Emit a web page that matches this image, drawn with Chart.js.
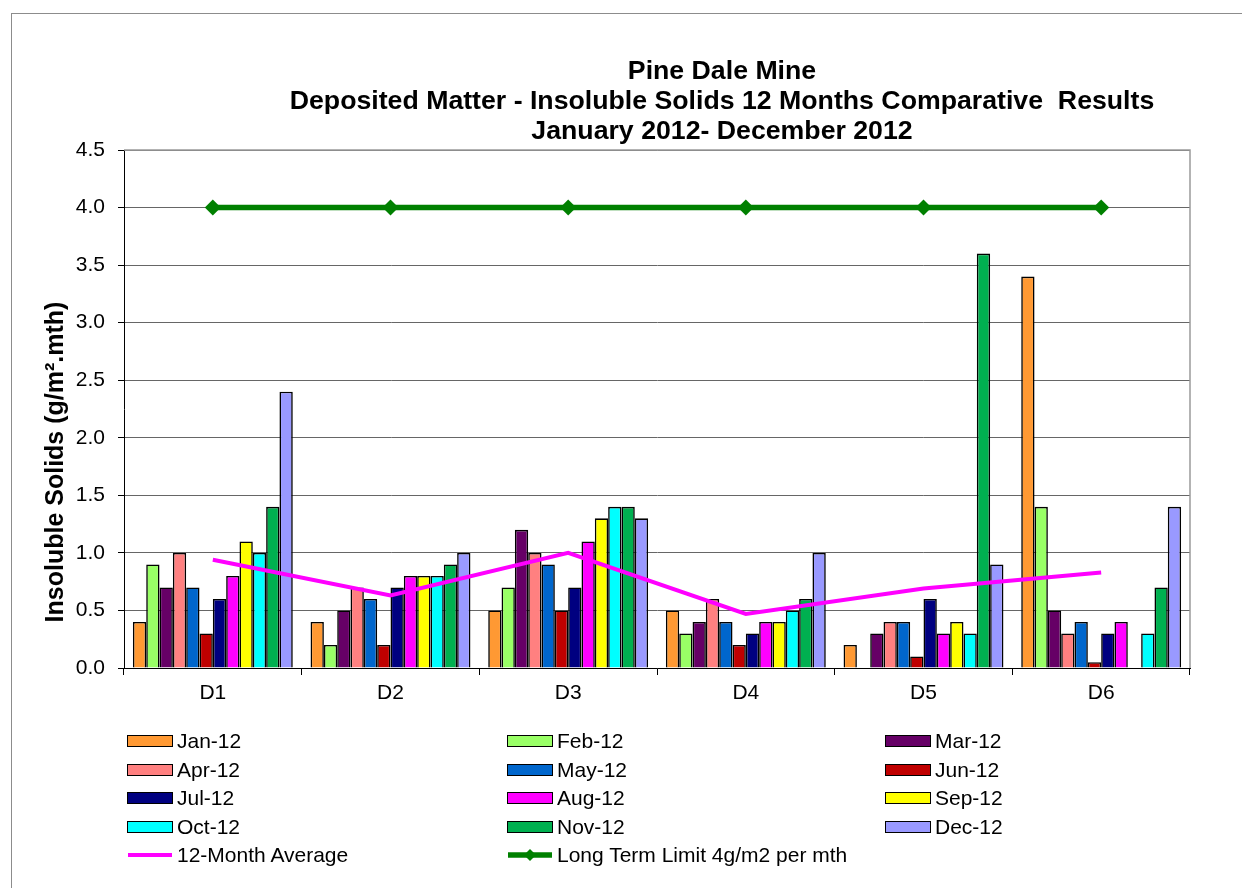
<!DOCTYPE html>
<html>
<head>
<meta charset="utf-8">
<script src="https://cdn.jsdelivr.net/npm/chart.js@4.4.0/dist/chart.umd.min.js"></script>
<style>
body { margin: 0; background: #fff; font-family: "Liberation Sans", Arial, sans-serif; }
#wrap { position: relative; width: 1242px; height: 888px; overflow: hidden; }
#frame { position: absolute; left: 11px; top: 13px; width: 1300px; height: 950px; border: 1px solid #8c8c8c; }
canvas { position: absolute; left: 0; top: 0; }
.item { position: absolute; display: flex; align-items: center; font-size: 21px; color: #000; height: 28px; white-space: nowrap; }
.sw { width: 44px; height: 10px; border: 1px solid #000; margin-right: 4px; box-sizing: content-box; }
.ln { width: 46px; margin-right: 4px; display: block; }
</style>
</head>
<body>
<div id="wrap">
  <div id="frame"></div>
  <canvas id="chart" width="1242" height="888"></canvas>
  <div id="legend"></div>
</div>
<script>
const stations = ["D1", "D2", "D3", "D4", "D5", "D6"];
const months = ["Jan-12", "Feb-12", "Mar-12", "Apr-12", "May-12", "Jun-12",
                "Jul-12", "Aug-12", "Sep-12", "Oct-12", "Nov-12", "Dec-12"];

const jan12 = [0.4, 0.4, 0.5, 0.5, 0.2, 3.4];
const feb12 = [0.9, 0.2, 0.7, 0.3, null, 1.4];
const mar12 = [0.7, 0.5, 1.2, 0.4, 0.3, 0.5];
const apr12 = [1.0, 0.7, 1.0, 0.6, 0.4, 0.3];
const may12 = [0.7, 0.6, 0.9, 0.4, 0.4, 0.4];
const jun12 = [0.3, 0.2, 0.5, 0.2, 0.1, 0.05];
const jul12 = [0.6, 0.7, 0.7, 0.3, 0.6, 0.3];
const aug12 = [0.8, 0.8, 1.1, 0.4, 0.3, 0.4];
const sep12 = [1.1, 0.8, 1.3, 0.4, 0.4, null];
const oct12 = [1.0, 0.8, 1.4, 0.5, 0.3, 0.3];
const nov12 = [1.4, 0.9, 1.4, 0.6, 3.6, 0.7];
const dec12 = [2.4, 1.0, 1.3, 1.0, 0.9, 1.4];

const average12 = [0.94, 0.63, 1.0, 0.47, 0.69, 0.83];
const limit = [4, 4, 4, 4, 4, 4];

const yTicks = [0, 0.5, 1, 1.5, 2, 2.5, 3, 3.5, 4, 4.5];

const titleLines = ["Pine Dale Mine",
                    "Deposited Matter - Insoluble Solids 12 Months Comparative  Results",
                    "January 2012- December 2012"];
const yTitle = "Insoluble Solids (g/m\u00B2.mth)";
const avgLabel = "12-Month Average";
const limitLabel = "Long Term Limit 4g/m2 per mth";

const monthValues = [jan12, feb12, mar12, apr12, may12, jun12, jul12, aug12, sep12, oct12, nov12, dec12];
const monthColors = ["#FF9933", "#99FF66", "#660066", "#FF8080", "#0066CC", "#C00000",
                     "#000080", "#FF00FF", "#FFFF00", "#00FFFF", "#00B050", "#9999FF"];

const FONT = '"Liberation Sans", Arial, sans-serif';

const barSets = months.map((m, i) => ({
    type: "bar",
    label: m,
    data: monthValues[i],
    backgroundColor: monthColors[i],
    borderColor: "#000",
    borderWidth: 1.6,
    categoryPercentage: 0.9,
    barPercentage: 1.0,
    order: 2,
}));

const lineSets = [
    {
        type: "line",
        label: avgLabel,
        data: average12,
        borderColor: "#FF00FF",
        borderWidth: 4,
        pointRadius: 0,
        tension: 0,
        order: 1,
    },
    {
        type: "line",
        label: limitLabel,
        data: limit,
        borderColor: "#008000",
        borderWidth: 5.5,
        pointStyle: "rectRot",
        pointRadius: 8,
        pointBackgroundColor: "#008000",
        pointBorderWidth: 0,
        tension: 0,
        order: 0,
    },
];

// title, y title and the grey top/right frame of the plot
const decor = {
    id: "decor",
    afterDraw(chart) {
        const { ctx, chartArea } = chart;
        ctx.save();
        ctx.strokeStyle = "#9a9a9a";
        ctx.lineWidth = 1.5;
        ctx.beginPath();
        ctx.moveTo(chartArea.left, chartArea.top);
        ctx.lineTo(chartArea.right, chartArea.top);
        ctx.lineTo(chartArea.right, chartArea.bottom);
        ctx.stroke();

        ctx.fillStyle = "#000";
        ctx.textAlign = "center";
        ctx.textBaseline = "middle";
        ctx.font = "bold 26.7px " + FONT;
        titleLines.forEach((t, i) => ctx.fillText(t, 722, 72 + i * 30));

        ctx.translate(56, 462);
        ctx.rotate(-Math.PI / 2);
        ctx.font = "bold 25px " + FONT;
        ctx.fillText(yTitle, 0, 0);
        ctx.restore();
    }
};

new Chart(document.getElementById("chart"), {
    data: { labels: stations, datasets: [...barSets, ...lineSets] },
    options: {
        responsive: false,
        animation: false,
        layout: { padding: { left: 40, top: 150, right: 52, bottom: 180 } },
        plugins: { legend: { display: false }, tooltip: { enabled: false } },
        scales: {
            x: {
                offset: true,
                grid: { offset: true, drawOnChartArea: false, tickLength: 7, color: "#000" },
                border: { color: "#000", width: 1 },
                ticks: { color: "#000", font: { family: FONT, size: 21 }, padding: 6 },
                afterFit: s => { s.height = 40; },
            },
            y: {
                min: 0,
                max: 4.5,
                afterBuildTicks: s => { s.ticks = yTicks.map(v => ({ value: v })); },
                grid: { color: "#666", tickColor: "#000", tickLength: 6 },
                border: { color: "#000", width: 1 },
                ticks: {
                    color: "#000",
                    font: { family: FONT, size: 21 },
                    padding: 13,
                    callback: v => Number(v).toFixed(1),
                },
                afterFit: s => { s.width = 84; },
            },
        },
    },
    plugins: [decor],
});

// legend: three columns, months row by row, then the two lines
const legend = document.getElementById("legend");
const colX = [127, 507, 885];
const rowY = 741;
const rowStep = 28.6;
const entries = months.map((m, i) => ({ label: m, color: monthColors[i], kind: "box" }));
entries.push({ label: avgLabel, color: "#FF00FF", kind: "avg" });
entries.push({ label: limitLabel, color: "#008000", kind: "limit" });
entries.forEach((e, i) => {
    const col = i < 12 ? i % 3 : (i - 12);
    const row = Math.floor(i / 3);
    const el = document.createElement("div");
    el.className = "item";
    el.style.left = colX[col] + "px";
    el.style.top = (rowY + row * rowStep - 14) + "px";
    let sw;
    if (e.kind === "box") {
        sw = `<span class="sw" style="background:${e.color}"></span>`;
    } else if (e.kind === "avg") {
        sw = `<svg class="ln" height="10"><line x1="1" y1="5" x2="45" y2="5" stroke="${e.color}" stroke-width="4"/></svg>`;
    } else {
        sw = `<svg class="ln" height="14"><line x1="1" y1="7" x2="45" y2="7" stroke="${e.color}" stroke-width="5.5"/>` +
             `<path d="M23 1 L29 7 L23 13 L17 7 Z" fill="${e.color}"/></svg>`;
    }
    el.innerHTML = sw + `<span>${e.label}</span>`;
    legend.appendChild(el);
});
</script>
</body>
</html>
